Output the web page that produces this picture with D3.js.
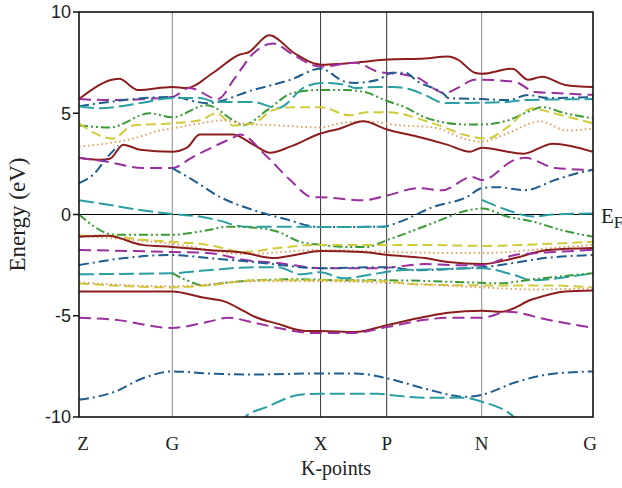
<!DOCTYPE html>
<html>
<head>
<meta charset="utf-8">
<script src="https://cdn.jsdelivr.net/npm/d3@7"></script>
<style>
  body { margin: 0; background: #fff; }
  svg { display: block; }
</style>
</head>
<body>
<div id="chart"></div>
<script>
// k-path position (0..1 along Z-G-X-P-N-G) and energy in eV
const kLabels = ["Z", "G", "X", "P", "N", "G"];
const kPos = [0, 0.1815, 0.470, 0.5986, 0.7835, 1];
const yTicks = [10, 5, 0, -5, -10];

const bandR1 = [[0,5.7],[0.078,6.7],[0.115,6.15],[0.181,6.3],[0.210,6.25],[0.261,7.0],[0.313,7.9],[0.329,8.0],[0.370,8.85],[0.420,7.95],[0.459,7.45],[0.470,7.4],[0.537,7.5],[0.601,7.65],[0.673,7.7],[0.718,7.8],[0.737,7.65],[0.770,7.0],[0.784,6.95],[0.843,7.2],[0.874,6.65],[0.901,6.8],[0.946,6.4],[1,6.3]];
const bandM1 = [[0,5.7],[0.060,5.65],[0.181,5.8],[0.215,6.25],[0.270,5.7],[0.302,6.7],[0.339,7.95],[0.377,8.45],[0.416,7.9],[0.453,7.4],[0.470,7.3],[0.537,7.5],[0.582,7.05],[0.634,6.9],[0.654,6.8],[0.712,6.0],[0.737,6.25],[0.770,6.65],[0.784,6.65],[0.848,6.55],[0.887,6.05],[0.926,6.0],[1,5.9]];
const bandB1 = [[0,5.35],[0.181,5.8],[0.249,5.5],[0.339,6.15],[0.411,6.65],[0.470,7.2],[0.518,6.55],[0.537,6.5],[0.582,6.65],[0.609,7.0],[0.634,7.0],[0.660,6.55],[0.712,5.9],[0.718,5.75],[0.784,5.7],[0.835,5.65],[0.874,5.9],[0.912,5.75],[1,5.8]];
const bandT1 = [[0,5.35],[0.041,5.25],[0.119,5.5],[0.181,5.75],[0.235,5.75],[0.268,5.55],[0.339,5.55],[0.387,5.25],[0.440,6.3],[0.470,6.5],[0.518,6.4],[0.537,6.25],[0.582,6.3],[0.609,6.3],[0.648,6.15],[0.673,5.9],[0.712,5.5],[0.829,5.55],[0.868,5.65],[1,5.7]];
const bandG1 = [[0,4.4],[0.060,4.3],[0.138,5.0],[0.181,4.8],[0.249,5.4],[0.300,4.65],[0.319,4.4],[0.366,5.15],[0.416,6.0],[0.470,6.15],[0.518,6.15],[0.556,6.05],[0.595,5.65],[0.634,5.3],[0.673,4.8],[0.751,4.45],[0.784,4.45],[0.835,4.65],[0.881,5.15],[0.901,5.3],[0.946,5.0],[1,4.75]];
const bandY1 = [[0,4.5],[0.066,3.75],[0.105,4.4],[0.181,4.5],[0.235,4.65],[0.268,5.0],[0.300,4.4],[0.339,4.5],[0.377,5.15],[0.416,5.3],[0.470,5.3],[0.527,4.9],[0.560,5.05],[0.599,5.05],[0.689,4.5],[0.755,3.9],[0.794,3.75],[0.833,4.3],[0.883,5.25],[0.916,5.05],[1,4.5]];
const bandO1 = [[0,3.35],[0.105,3.75],[0.158,4.15],[0.181,4.25],[0.235,4.5],[0.280,4.65],[0.319,4.5],[0.385,4.4],[0.470,4.3],[0.508,4.5],[0.553,4.6],[0.625,4.4],[0.689,4.3],[0.755,3.7],[0.784,3.6],[0.833,4.0],[0.897,4.6],[0.949,4.15],[1,4.25]];
const bandR2 = [[0,2.8],[0.041,2.7],[0.060,2.75],[0.086,3.45],[0.119,3.2],[0.181,3.1],[0.210,3.3],[0.235,3.95],[0.300,3.95],[0.339,3.45],[0.372,3.05],[0.411,3.35],[0.470,4.0],[0.508,4.25],[0.553,4.6],[0.599,4.2],[0.650,3.9],[0.716,3.45],[0.761,3.1],[0.784,3.3],[0.864,3.0],[0.922,3.5],[1,3.1]];
const bandM2 = [[0,2.8],[0.056,2.6],[0.123,2.3],[0.181,2.3],[0.222,2.85],[0.300,3.8],[0.313,3.95],[0.366,2.85],[0.411,1.7],[0.455,0.85],[0.470,0.85],[0.551,0.7],[0.601,0.95],[0.660,1.3],[0.706,1.2],[0.765,1.85],[0.784,1.7],[0.848,2.7],[0.868,2.8],[0.926,2.3],[1,2.2]];
const bandB2 = [[0,1.55],[0.031,2.05],[0.051,2.7],[0.076,3.4],[0.13,null],[0.181,2.3],[0.222,1.7],[0.274,0.87],[0.339,0.22],[0.397,-0.2],[0.470,-0.62],[0.591,-0.6],[0.625,-0.35],[0.689,0.37],[0.755,0.87],[0.784,1.3],[0.815,1.35],[0.868,1.2],[0.926,1.7],[0.979,2.1],[1,2.2]];
const bandT2 = [[0,0.7],[0.060,0.47],[0.119,0.22],[0.181,0.02],[0.235,-0.1],[0.268,-0.27],[0.323,-0.6],[0.430,-0.6],[0.470,-0.62],[0.599,-0.6],[0.70,null],[0.784,0.72],[0.833,0.22],[0.883,-0.1],[0.922,0.0],[1,0.05]];
const bandG2 = [[0,0.0],[0.070,-1.0],[0.181,-1.0],[0.251,-0.77],[0.290,-0.6],[0.342,-0.65],[0.387,-0.85],[0.430,-1.35],[0.470,-1.5],[0.518,-1.6],[0.560,-1.6],[0.601,-1.25],[0.689,-0.42],[0.755,0.2],[0.784,0.3],[0.833,-0.1],[0.883,-0.35],[0.936,-0.75],[1,-1.1]];
const bandY2 = [[0,-1.05],[0.056,-1.05],[0.123,-1.25],[0.181,-1.35],[0.251,-1.5],[0.323,-1.85],[0.387,-1.65],[0.470,-1.5],[0.582,-1.5],[0.673,-1.5],[0.784,-1.55],[0.912,-1.45],[1,-1.35]];
const bandO2 = [[0,-1.05],[0.181,-1.45],[0.323,-1.95],[0.470,-1.75],[0.599,-1.85],[0.718,-1.9],[0.784,-1.9],[0.946,-1.6],[1,-1.5]];
const bandR3 = [[0,-1.1],[0.056,-1.05],[0.123,-1.5],[0.181,-1.6],[0.251,-1.75],[0.323,-1.9],[0.376,-2.15],[0.420,-2.0],[0.470,-1.8],[0.551,-1.85],[0.601,-2.0],[0.673,-2.15],[0.718,-2.35],[0.784,-2.45],[0.848,-2.15],[0.912,-1.75],[1,-1.65]];
const bandM3 = [[0,-1.75],[0.181,-1.85],[0.251,-1.9],[0.323,-2.25],[0.387,-2.4],[0.470,-2.65],[0.582,-2.65],[0.673,-2.45],[0.730,-2.5],[0.784,-2.5],[0.848,-2.0],[0.926,-1.85],[1,-1.75]];
const bandB3 = [[0,-2.5],[0.089,-2.15],[0.181,-2.0],[0.251,-2.15],[0.342,-2.35],[0.470,-2.65],[0.601,-2.6],[0.654,-2.75],[0.751,-2.65],[0.784,-2.6],[0.926,-2.1],[1,-2.0]];
const bandT3 = [[0,-2.95],[0.181,-2.9],[0.251,-2.75],[0.342,-2.6],[0.387,-2.6],[0.430,-2.95],[0.470,-2.85],[0.514,-3.15],[0.560,-3.0],[0.625,-2.75],[0.700,-2.7],[0.784,-2.65],[0.848,-3.0],[0.881,-3.25],[0.946,-3.1],[1,-2.9]];
const bandG3 = [[0.181,-2.9],[0.210,-3.25],[0.241,-3.5],[0.290,-3.35],[0.342,-3.25],[0.430,-3.2],[0.514,-3.25],[0.599,-3.25],[0.755,-3.35],[0.819,-3.4],[0.883,-3.2],[1,-2.9]];
const bandY3 = [[0,-3.4],[0.181,-3.6],[0.251,-3.5],[0.342,-3.25],[0.470,-3.25],[0.599,-3.3],[0.654,-3.45],[0.784,-3.5],[0.912,-3.5],[1,-3.6]];
const bandO3 = [[0,-3.35],[0.181,-3.55],[0.342,-3.3],[0.470,-3.3],[0.625,-3.4],[0.784,-3.6],[0.883,-3.7],[1,-3.65]];
const bandR4 = [[0,-3.8],[0.181,-3.8],[0.241,-4.1],[0.284,-4.3],[0.323,-4.8],[0.342,-5.05],[0.387,-5.4],[0.440,-5.75],[0.470,-5.75],[0.537,-5.8],[0.601,-5.45],[0.673,-5.05],[0.718,-4.85],[0.784,-4.75],[0.823,-4.8],[0.881,-4.2],[0.946,-3.8],[1,-3.75]];
const bandM4 = [[0,-5.1],[0.070,-5.2],[0.181,-5.6],[0.251,-5.3],[0.290,-5.1],[0.342,-5.35],[0.387,-5.6],[0.453,-5.85],[0.470,-5.85],[0.531,-5.85],[0.601,-5.55],[0.673,-5.2],[0.718,-5.1],[0.784,-5.1],[0.835,-4.8],[0.912,-5.2],[1,-5.6]];
const bandB4 = [[0,-9.15],[0.070,-8.75],[0.123,-8.1],[0.181,-7.75],[0.251,-7.85],[0.342,-7.9],[0.470,-7.85],[0.537,-7.85],[0.601,-8.1],[0.673,-8.6],[0.751,-9.0],[0.784,-8.9],[0.848,-8.3],[0.912,-7.9],[1,-7.75]];
const bandT4 = [[0.310,-10.4],[0.323,-10],[0.366,-9.5],[0.430,-8.9],[0.470,-8.85],[0.582,-8.85],[0.601,-8.9],[0.673,-9.05],[0.751,-9.05],[0.784,-9.25],[0.848,-10.05],[0.86,-10.4]];

const bands = [bandR1, bandM1, bandB1, bandT1, bandG1, bandY1, bandO1,
               bandR2, bandM2, bandB2, bandT2, bandG2, bandY2, bandO2,
               bandR3, bandM3, bandB3, bandT3, bandG3, bandY3, bandO3,
               bandR4, bandM4, bandB4, bandT4];

// seven line styles cycle through the bands
const styles = [
  { color: "#8c1d1d", dash: null },
  { color: "#9a2f9e", dash: "12,6" },
  { color: "#1f5d8e", dash: "10,4,2,4" },
  { color: "#2a9fa3", dash: "15,5" },
  { color: "#3a9a38", dash: "9,3,2,3,2,3" },
  { color: "#cfcb3a", dash: "10,5" },
  { color: "#e0a060", dash: "1.5,3" }
];

const width = 622, height = 488;
const margin = { left: 79, right: 29, top: 12, bottom: 71 };

const svg = d3.select("#chart").append("svg")
  .attr("width", width)
  .attr("height", height);

const x = d3.scaleLinear().domain([0, 1]).range([margin.left, width - margin.right]);
const y = d3.scaleLinear().domain([-10, 10]).range([height - margin.bottom, margin.top]);

svg.append("clipPath").attr("id", "plotClip")
  .append("rect")
  .attr("x", x(0)).attr("y", y(10))
  .attr("width", x(1) - x(0)).attr("height", y(-10) - y(10));

// k-point separators
svg.selectAll(".kline")
  .data(kPos.slice(1, -1))
  .enter().append("line")
  .attr("x1", d => x(d)).attr("x2", d => x(d))
  .attr("y1", y(10)).attr("y2", y(-10))
  .attr("stroke", (d, i) => (i === 1 || i === 2) ? "#333" : "#888")
  .attr("stroke-width", 1);

// Fermi level
svg.append("line")
  .attr("x1", x(0)).attr("x2", x(1))
  .attr("y1", y(0)).attr("y2", y(0))
  .attr("stroke", "#000").attr("stroke-width", 1);

const line = d3.line()
  .defined(d => d[1] !== null)
  .x(d => x(d[0]))
  .y(d => y(d[1]))
  .curve(d3.curveMonotoneX);

svg.append("g").attr("clip-path", "url(#plotClip)")
  .selectAll("path")
  .data(bands)
  .enter().append("path")
  .attr("d", line)
  .attr("fill", "none")
  .attr("stroke", (d, i) => styles[i % 7].color)
  .attr("stroke-width", 2)
  .attr("stroke-dasharray", (d, i) => styles[i % 7].dash);

// frame
svg.append("rect")
  .attr("x", x(0)).attr("y", y(10))
  .attr("width", x(1) - x(0)).attr("height", y(-10) - y(10))
  .attr("fill", "none").attr("stroke", "#111").attr("stroke-width", 1.6);

// y axis ticks + labels
const yAxis = svg.append("g");
yAxis.selectAll("line")
  .data(yTicks)
  .enter().append("line")
  .attr("x1", x(0) - 6).attr("x2", x(0))
  .attr("y1", d => y(d)).attr("y2", d => y(d))
  .attr("stroke", "#111").attr("stroke-width", 1.5);
yAxis.selectAll("text")
  .data(yTicks)
  .enter().append("text")
  .attr("x", x(0) - 8)
  .attr("y", d => y(d))
  .attr("dy", "0.36em")
  .attr("text-anchor", "end")
  .attr("font-family", "Liberation Sans, Arial, sans-serif")
  .attr("font-size", 18)
  .attr("fill", "#222")
  .text(d => d);

// k-point labels
svg.selectAll(".klabel")
  .data(kLabels)
  .enter().append("text")
  .attr("x", (d, i) => Math.min(Math.max(x(kPos[i]), x(0) + 4), x(1) - 3))
  .attr("y", 450)
  .attr("text-anchor", "middle")
  .attr("font-family", "Liberation Serif, Times New Roman, serif")
  .attr("font-size", 19)
  .attr("fill", "#222")
  .text(d => d);

svg.append("text")
  .attr("x", 336).attr("y", 475)
  .attr("text-anchor", "middle")
  .attr("font-family", "Liberation Serif, Times New Roman, serif")
  .attr("font-size", 20)
  .attr("fill", "#222")
  .text("K-points");

svg.append("text")
  .attr("transform", "translate(25," + ((y(10) + y(-10)) / 2) + ") rotate(-90)")
  .attr("text-anchor", "middle")
  .attr("font-family", "Liberation Serif, Times New Roman, serif")
  .attr("font-size", 23)
  .attr("fill", "#222")
  .text("Energy (eV)");

const ef = svg.append("text")
  .attr("x", 601).attr("y", y(0) + 8)
  .attr("font-family", "Liberation Serif, Times New Roman, serif")
  .attr("font-size", 21)
  .attr("fill", "#222");
ef.append("tspan").text("E");
ef.append("tspan").attr("dy", 5).attr("font-size", 17).text("F");
</script>
</body>
</html>
